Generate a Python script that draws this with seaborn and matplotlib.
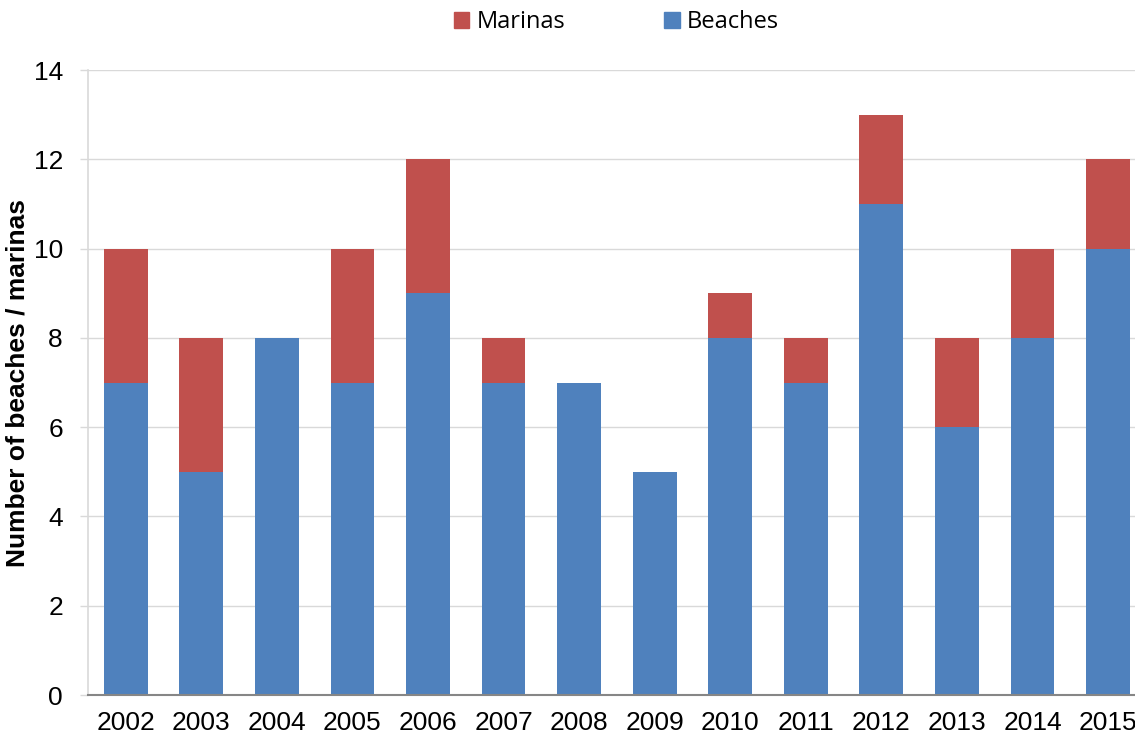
import matplotlib
matplotlib.use('Agg')
import matplotlib.pyplot as plt
import seaborn as sns
import pandas as pd
from matplotlib.patches import Patch

years = ['2002', '2003', '2004', '2005', '2006', '2007', '2008',
         '2009', '2010', '2011', '2012', '2013', '2014', '2015']
beaches = [7, 5, 8, 7, 9, 7, 7, 5, 8, 7, 11, 6, 8, 10]
marinas = [3, 3, 0, 3, 3, 1, 0, 0, 1, 1, 2, 2, 2, 2]

blue = '#4F81BD'
red = '#C0504D'

df = pd.DataFrame({'year': years, 'beaches': beaches, 'marinas': marinas})
df['total'] = df['beaches'] + df['marinas']

sns.set_style('white')
plt.rcParams['font.family'] = ['Liberation Sans', 'DejaVu Sans']
plt.rcParams['text.color'] = 'black'

fig = plt.figure(figsize=(11.35, 7.4), dpi=100)
ax = fig.add_axes([0.0775, 0.0608, 0.932, 0.8446])

# stacked: total (red) behind, beaches (blue) in front
sns.barplot(data=df, x='year', y='total', color=red, width=0.58, saturation=1,
            linewidth=0, ax=ax, zorder=2)
sns.barplot(data=df, x='year', y='beaches', color=blue, width=0.58, saturation=1,
            linewidth=0, ax=ax, zorder=3)

ax.set_ylim(0, 14)
ax.set_yticks(range(0, 15, 2))
ax.set_xlim(-0.5, len(years) - 0.5)
ax.yaxis.grid(True, color='#D9D9D9', linewidth=1, zorder=0)
ax.set_axisbelow(True)

for s in ['top', 'right']:
    ax.spines[s].set_visible(False)
ax.spines['left'].set_color('#D9D9D9')
ax.spines['left'].set_linewidth(1.2)
ax.spines['bottom'].set_color('#868686')
ax.spines['bottom'].set_linewidth(1.5)
ax.spines['bottom'].set_zorder(5)

ax.tick_params(axis='y', which='major', left=True, length=6, width=1, color='#D9D9D9',
               labelsize=19, pad=12, labelcolor='black')
ax.tick_params(axis='x', bottom=False, labelsize=19, pad=8, labelcolor='black')

ax.set_xlabel('')
ax.set_ylabel('Number of beaches / marinas', fontsize=19, fontweight='bold',
              labelpad=3, color='black')

handles = [Patch(color=red, label='Marinas'), Patch(color=blue, label='Beaches')]
fig.legend(handles=handles, loc='center', bbox_to_anchor=(0.543, 0.97), ncol=2,
           frameon=False, prop={'family': 'Open Sans', 'size': 17},
           handlelength=0.65, handleheight=0.65, handletextpad=0.3, columnspacing=4.2)

fig.savefig('out.png', dpi=100)
